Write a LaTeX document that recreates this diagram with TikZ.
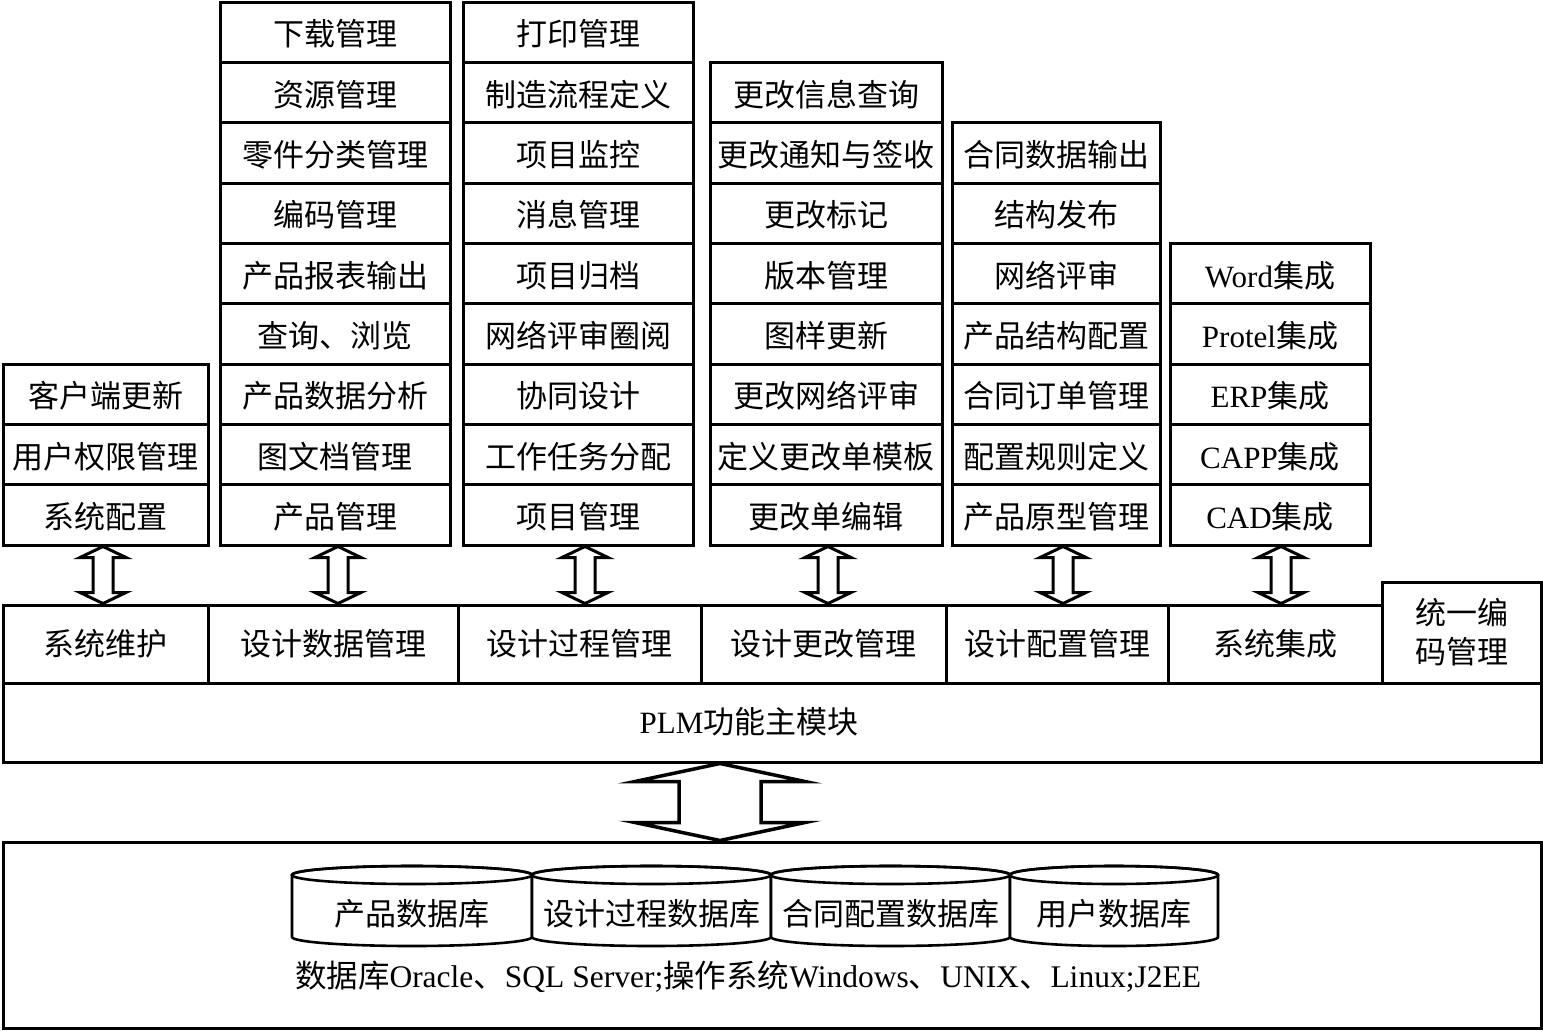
\documentclass[tikz,border=0pt]{standalone}
\usepackage{fontspec}
\setmainfont{Liberation Serif}
\newfontfamily\cjk{Noto Sans CJK SC}
\usetikzlibrary{calc}
\tikzset{
  cell/.style={draw, line width=3pt, fill=white, inner sep=0pt,
    font=\cjk\fontsize{31}{38}\selectfont, text height=28pt, text depth=1pt,
    minimum height=60.3pt},
  box/.style={draw, line width=3pt, inner sep=0pt,
    font=\cjk\fontsize{31}{39}\selectfont, align=center},
  arrowline/.style={draw, line width=3pt, fill=white},
  txt/.style={inner sep=0pt, font=\cjk\fontsize{31}{38}\selectfont},
  cyl/.style={draw, line width=2.6pt, fill=white},
}
% #1 line width, #2 from anchor, #3 to anchor, #4 x, #5 half head width, #6 head length, #7 half shaft width
\newcommand\vdarrow[7][3pt]{%
  \path[arrowline, line width=#1] let \p1=(#2), \p2=(#3) in
    (#4pt,\y1) -- ({#4pt+#5pt},{\y1-#6pt}) -- ({#4pt+#7pt},{\y1-#6pt})
    -- ({#4pt+#7pt},{\y2+#6pt}) -- ({#4pt+#5pt},{\y2+#6pt}) -- (#4pt,\y2)
    -- ({#4pt-#5pt},{\y2+#6pt}) -- ({#4pt-#7pt},{\y2+#6pt})
    -- ({#4pt-#7pt},{\y1-#6pt}) -- ({#4pt-#5pt},{\y1-#6pt}) -- cycle;}
\newcommand\dbcyl[4]{% #1 left x, #2 right x, #3 name, #4 text
  \pgfmathsetmacro\rx{(#2-#1)/2}%
  \pgfmathsetmacro\cx{(#2+#1)/2}%
  \path[cyl] (#1,875) -- (#1,937) arc[start angle=180, end angle=0, x radius=\rx, y radius=9]
     -- (#2,875) arc[start angle=0, end angle=-180, x radius=\rx, y radius=9] -- cycle;
  \draw[line width=2.6pt] (\cx,875) ellipse[x radius=\rx, y radius=9];
  \node[txt] (#3) at (\cx,914) {#4};}
\begin{document}
\begin{tikzpicture}[x=1pt,y=-1pt]
\useasboundingbox (0,0) rectangle (1543,1031);
\fill[white] (0,0) rectangle (1543,1031);

% column 1
\foreach \t [count=\k] in {客户端更新,用户权限管理,系统配置}
  \node[cell, minimum width=205pt] (a\k) at (105.5,{545-(3-\k+0.5)*60.3}) {\t};
% column 2
\foreach \t [count=\k] in {下载管理,资源管理,零件分类管理,编码管理,产品报表输出,查询、浏览,产品数据分析,图文档管理,产品管理}
  \node[cell, minimum width=230pt] (b\k) at (335,{545-(9-\k+0.5)*60.3}) {\t};
% column 3
\foreach \t [count=\k] in {打印管理,制造流程定义,项目监控,消息管理,项目归档,网络评审圈阅,协同设计,工作任务分配,项目管理}
  \node[cell, minimum width=230pt] (c\k) at (578,{545-(9-\k+0.5)*60.3}) {\t};
% column 4
\foreach \t [count=\k] in {更改信息查询,更改通知与签收,更改标记,版本管理,图样更新,更改网络评审,定义更改单模板,更改单编辑}
  \node[cell, minimum width=232pt] (d\k) at (826,{545-(8-\k+0.5)*60.3}) {\t};
% column 5
\foreach \t [count=\k] in {合同数据输出,结构发布,网络评审,产品结构配置,合同订单管理,配置规则定义,产品原型管理}
  \node[cell, minimum width=208pt] (e\k) at (1056,{545-(7-\k+0.5)*60.3}) {\t};
% column 6
\foreach \t [count=\k] in {{{\rmfamily Word}集成},{{\rmfamily Protel}集成},{{\rmfamily ERP}集成},{{\rmfamily CAPP}集成},{{\rmfamily CAD}集成}}
  \node[cell, minimum width=200pt] (f\k) at (1270,{545-(5-\k+0.5)*60.3}) {\t};

% middle row
\node[box, minimum width=205pt, minimum height=78pt] (m1) at (105.5,644) {系统维护};
\node[box, minimum width=250pt, minimum height=78pt] (m2) at (333,644) {设计数据管理};
\node[box, minimum width=243pt, minimum height=78pt] (m3) at (579.5,644) {设计过程管理};
\node[box, minimum width=245pt, minimum height=78pt] (m4) at (823.5,644) {设计更改管理};
\node[box, minimum width=222pt, minimum height=78pt] (m5) at (1057,644) {设计配置管理};
\node[box, minimum width=214pt, minimum height=78pt] (m6) at (1275,644) {系统集成};
\node[box, minimum width=159pt, minimum height=101pt] (m7) at (1461.5,632.5) {统一编\\码管理};

% PLM main module
\node[box, minimum width=1538pt, minimum height=79pt] (plm) at (772,722.5) {};
\node[txt] (plmtext) at (749,722) {{\rmfamily PLM}功能主模块};

% database box
\node[box, minimum width=1538pt, minimum height=186pt] (db) at (772,935) {};

% small double arrows
\vdarrow{a3.south}{m1.north}{103}{23}{11}{10}
\vdarrow{b9.south}{m2.north}{338}{23}{11}{10}
\vdarrow{c9.south}{m3.north}{585}{23}{11}{10}
\vdarrow{d8.south}{m4.north}{828}{23}{11}{10}
\vdarrow{e7.south}{m5.north}{1063}{23}{11}{10}
\vdarrow{f5.south}{m6.north}{1281}{23}{11}{10}

% big double arrow
\vdarrow[3.5pt]{plm.south}{db.north}{720}{85}{18}{41}

% cylinders
\dbcyl{292}{532}{cy1}{产品数据库}
\dbcyl{532}{771}{cy2}{设计过程数据库}
\dbcyl{771}{1010}{cy3}{合同配置数据库}
\dbcyl{1010}{1218}{cy4}{用户数据库}

\node[inner sep=0pt, font=\rmfamily\fontsize{31.5}{36}\selectfont] (plat) at (748,977)
  {{\cjk 数据库}Oracle{\cjk 、}SQL Server;{\cjk 操作系统}Windows{\cjk 、}UNIX{\cjk 、}Linux;J2EE};
\end{tikzpicture}
\end{document}
